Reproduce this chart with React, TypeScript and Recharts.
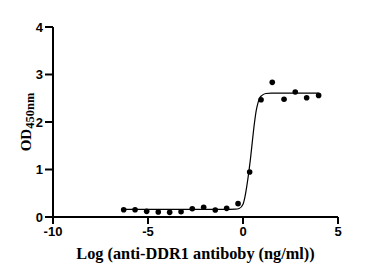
import React from 'react';
import { ComposedChart, XAxis, YAxis, Line, Scatter } from 'recharts';

const logConc = [-6.28, -5.68, -5.07, -4.46, -3.86, -3.26, -2.67, -2.07, -1.46, -0.86, -0.26, 0.35, 0.95, 1.54, 2.16, 2.75, 3.35, 3.98];
const odValues = [0.154, 0.154, 0.119, 0.105, 0.098, 0.112, 0.175, 0.204, 0.147, 0.182, 0.281, 0.947, 2.47, 2.835, 2.48, 2.63, 2.51, 2.56];

const curveX = [-6.28, -3, -1, -0.4, -0.2, 0, 0.1, 0.2, 0.3, 0.4, 0.5, 0.6, 0.7, 0.8, 0.9, 1.0, 1.2, 1.5, 2.5, 3.98];
const curveY = [0.16, 0.16, 0.16, 0.165, 0.18, 0.27, 0.42, 0.65, 0.93, 1.25, 1.62, 1.97, 2.25, 2.42, 2.52, 2.56, 2.6, 2.61, 2.61, 2.61];

const xTicks = [-10, -5, 0, 5];
const yTicks = [0, 1, 2, 3, 4];

const points = logConc.map((x, i) => ({ x, y: odValues[i] }));
const curve = curveX.map((x, i) => ({ x, y: curveY[i] }));

const tickStyle = { fill: '#000', fontSize: 13, fontWeight: 'bold', fontFamily: '"Liberation Sans", Arial, sans-serif' };

const XLabel = (props: any) => {
  const vb = props.viewBox || {};
  return (
    <text
      x={vb.x + vb.width / 2}
      y={vb.y + 42}
      textAnchor="middle"
      fontFamily='"Liberation Serif", "Times New Roman", serif'
      fontWeight="bold"
      fontSize={16.3}
      fill="#000"
    >
      Log (anti-DDR1 antiboby (ng/ml))
    </text>
  );
};

const YLabel = (props: any) => {
  const vb = props.viewBox || {};
  const cx = vb.x + 31;
  const cy = vb.y + vb.height / 2;
  return (
    <text
      x={cx}
      y={cy}
      transform={`rotate(-90, ${cx}, ${cy})`}
      textAnchor="middle"
      fontFamily='"Liberation Serif", "Times New Roman", serif'
      fill="#000"
    >
      <tspan fontSize={15} fontWeight="bold">OD</tspan>
      <tspan fontSize={12.5} fontWeight="bold" dy={3}>450nm</tspan>
    </text>
  );
};

const Dot = (props: any) => <circle cx={props.cx} cy={props.cy} r={2.8} fill="#000" />;

export default function App() {
  return (
    <div style={{ position: 'absolute', left: 0, top: 0, width: 382, height: 276, background: '#fff' }}>
      <ComposedChart width={382} height={276} margin={{ top: 27, right: 44, bottom: 0, left: 0 }}>
        <XAxis
          type="number"
          dataKey="x"
          domain={[-10, 5]}
          ticks={xTicks}
          allowDataOverflow
          height={59}
          stroke="#000"
          axisLine={{ stroke: '#000', strokeWidth: 2 }}
          tickLine={{ stroke: '#000', strokeWidth: 2 }}
          tickSize={7}
          tickMargin={3}
          tick={tickStyle}
          label={<XLabel />}
        />
        <YAxis
          type="number"
          dataKey="y"
          domain={[0, 4]}
          ticks={yTicks}
          allowDataOverflow
          width={53}
          stroke="#000"
          axisLine={{ stroke: '#000', strokeWidth: 2 }}
          tickLine={{ stroke: '#000', strokeWidth: 2 }}
          tickSize={8}
          tickMargin={2}
          tick={tickStyle}
          label={<YLabel />}
        />
        <Line
          data={curve}
          dataKey="y"
          type="monotone"
          stroke="#000"
          strokeWidth={1.2}
          dot={false}
          activeDot={false}
          isAnimationActive={false}
        />
        <Scatter data={points} dataKey="y" shape={<Dot />} isAnimationActive={false} />
      </ComposedChart>
    </div>
  );
}
